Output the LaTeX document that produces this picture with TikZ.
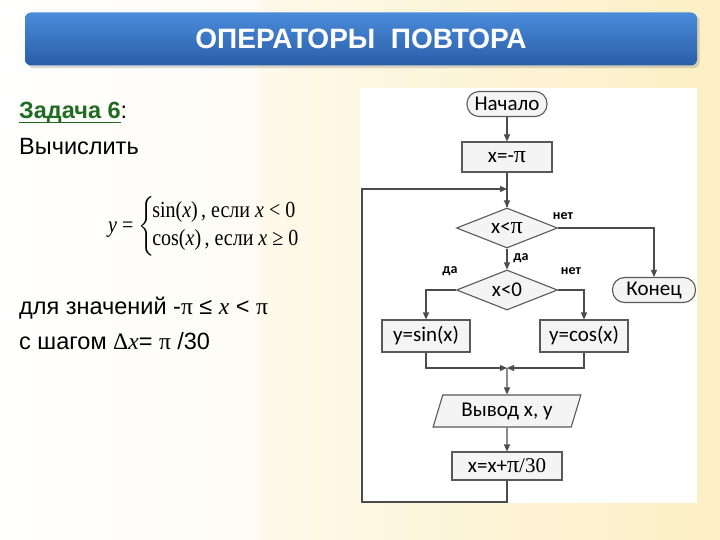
\documentclass[tikz,border=0pt]{standalone}
\usepackage{amsmath}
\usepackage{graphicx}
\usepackage{xcolor}
\usepackage{fontspec}
\setmainfont{Liberation Sans}
\newfontfamily\flowfont{Carlito}
\newfontfamily\romfont{Liberation Serif}
\usetikzlibrary{arrows.meta,shapes.geometric,shadows,positioning}

\definecolor{taskgreen}{HTML}{1F6B1F}
\definecolor{bartop}{HTML}{4A8CDA}
\definecolor{barbot}{HTML}{2A5EA8}
\definecolor{cream}{HTML}{FCEFC4}
\definecolor{boxfill}{HTML}{F4F4F4}

\newcommand{\bigpi}{{\romfont\fontsize{24}{24}\selectfont π}}

\begin{document}
\begin{tikzpicture}[x=1pt,y=-1pt,
  line/.style={draw=black!70, line width=1.1pt},
  arr/.style={line, -{Triangle[length=7pt,width=6pt]}},
  flow/.style={draw=black!65, line width=1.1pt, fill=boxfill, inner sep=0pt,
    font=\flowfont\fontsize{21}{24}\selectfont},
  term/.style={flow, rounded corners=12pt, minimum height=25pt},
  proc/.style={flow, minimum height=30pt},
  cond/.style={flow, diamond, aspect=2.5, minimum width=101pt, minimum height=40pt},
  io/.style={flow, trapezium, trapezium left angle=68, trapezium right angle=112,
    trapezium stretches=true, minimum width=148pt, minimum height=32pt},
  lbl/.style={font=\flowfont\bfseries\fontsize{14}{16}\selectfont, inner sep=1pt},
  txt/.style={anchor=west, inner sep=0pt, font=\fontsize{23.5}{28}\selectfont}
]

  \useasboundingbox (0,0) rectangle (720,540);

  % background
  \shade[left color=white, right color=cream] (0,0) rectangle (720,540);
  \fill[white, opacity=0.5] (0,0) rectangle (260,540);
  \fill[white] (360,88) rectangle (697,503);

  % title bar
  \node[rounded corners=6pt, top color=bartop, bottom color=barbot,
    drop shadow={opacity=0.3}, minimum width=672pt, minimum height=53pt,
    text=white, font=\bfseries\fontsize{28}{32}\selectfont] (title) at (361,39)
    {ОПЕРАТОРЫ \ ПОВТОРА};

  % task text
  \node[txt] (task) at (19,115) {\textcolor{taskgreen}{\bfseries\underline{\smash{Задача 6}}}:};
  \node[txt] (calc) at (19,147) {Вычислить};
  \node[txt, font=\romfont\fontsize{23}{28}\selectfont] (formula) at (108,226)
    {\scalebox{0.87}[1]{{\itshape y} = $\left\{\vphantom{\begin{array}{c}X\\[4pt]X\end{array}}\right.$\!\begin{tabular}{@{}l@{}}
      sin({\itshape x})\,, если {\itshape x} < 0\\
      cos({\itshape x})\,, если {\itshape x} ≥ 0\end{tabular}}};
  \node[txt] (range) at (19,308)
    {для значений -{\romfont π} ≤ {\romfont\itshape x} < {\romfont π}};
  \node[txt] (stepl) at (19,341)
    {с шагом {\romfont Δ\itshape x}= {\romfont π} /30};

  % flowchart
  \node[term, minimum width=80pt] (start) at (507,104) {Начало};
  \node[proc, minimum width=90pt] (init) at (507,157) {x=-\bigpi};
  \node[cond] (c1) at (507,228) {x<\bigpi};
  \node[cond] (c2) at (507,290) {x<0};
  \node[term, minimum width=83pt] (finish) at (654,290) {Конец};
  \node[proc, minimum width=88pt, minimum height=32pt] (sinb) at (426,336) {y=sin(x)};
  \node[proc, minimum width=88pt, minimum height=32pt] (cosb) at (584,336) {y=cos(x)};
  \node[io] (outp) at (507,411) {Вывод x, y};
  \node[proc, minimum width=110pt, minimum height=28pt] (incr) at (507,466)
    {x=x+\bigpi{\romfont/30}};

  \coordinate (loopin) at (507,189);
  \coordinate (loopbot) at (362,502);
  \coordinate (join) at (507,368);

  \draw[arr] (start) -- (init);
  \draw[line] (init) -- (c1);
  \draw[arr] (loopin) -- (c1.north);
  \draw[arr] (incr.south) |- (loopbot) |- (loopin);
  \draw[arr] (c1.east) -| (finish.north);
  \draw[arr] (c1.south) -- (c2.north);
  \draw[arr] (c2.west) -| (sinb.north);
  \draw[arr] (c2.east) -| (cosb.north);
  \draw[arr] (sinb.south) |- (join);
  \draw[arr] (cosb.south) |- (join);
  \draw[arr] (join) -- (outp.north);
  \draw[arr] (outp) -- (incr);

  \node[lbl] (no1) at (563,216) {нет};
  \node[lbl] (yes1) at (521,258) {да};
  \node[lbl] (yes2) at (450,271) {да};
  \node[lbl] (no2) at (571,271) {нет};

\end{tikzpicture}
\end{document}
